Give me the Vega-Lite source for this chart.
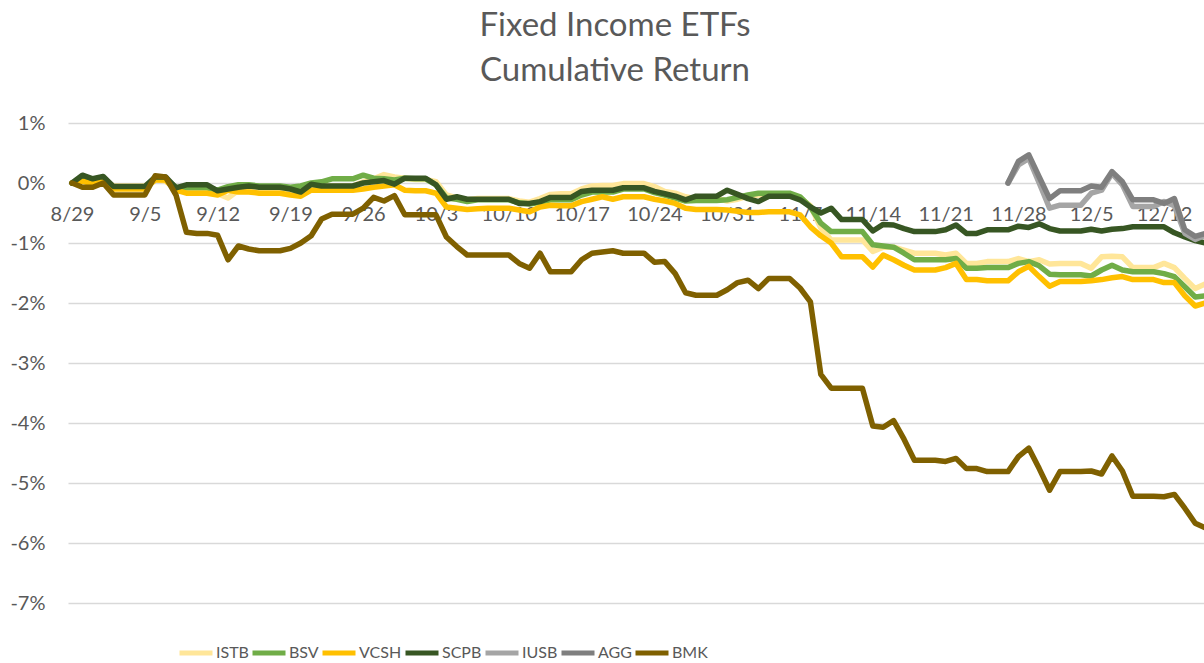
{
"$schema":"https://vega.github.io/schema/vega-lite/v6.json",
"width":1136,"height":480,
"autosize":{"type":"none"},
"padding":{"left":68,"top":123,"right":0,"bottom":60},
"background":"white",
"config":{"view":{"stroke":null},"font":"Lato"},
"title":{"text":["Fixed Income ETFs","Cumulative Return"],"fontSize":33,"font":"Lato","fontWeight":"normal","color":"#595959","anchor":"middle","dx":-21,"offset":25,"lineHeight":45},
"data":{"values":[
{"d":"2022-08-29","ISTB":0,"BSV":0,"VCSH":0,"SCPB":0,"BMK":0},
{"d":"2022-08-30","ISTB":0.04,"BSV":0.06,"VCSH":0.03,"SCPB":0.13,"BMK":-0.07},
{"d":"2022-08-31","ISTB":0.02,"BSV":0.03,"VCSH":-0.02,"SCPB":0.07,"BMK":-0.07},
{"d":"2022-09-01","ISTB":0.06,"BSV":0.06,"VCSH":0.05,"SCPB":0.11,"BMK":0.0},
{"d":"2022-09-02","ISTB":-0.05,"BSV":-0.07,"VCSH":-0.1,"SCPB":-0.06,"BMK":-0.2},
{"d":"2022-09-03","ISTB":-0.05,"BSV":-0.07,"VCSH":-0.1,"SCPB":-0.06,"BMK":-0.2},
{"d":"2022-09-04","ISTB":-0.05,"BSV":-0.07,"VCSH":-0.1,"SCPB":-0.06,"BMK":-0.2},
{"d":"2022-09-05","ISTB":-0.05,"BSV":-0.07,"VCSH":-0.1,"SCPB":-0.06,"BMK":-0.2},
{"d":"2022-09-06","ISTB":0.06,"BSV":0.07,"VCSH":0.05,"SCPB":0.1,"BMK":0.12},
{"d":"2022-09-07","ISTB":0.03,"BSV":0.07,"VCSH":0.05,"SCPB":0.1,"BMK":0.1},
{"d":"2022-09-08","ISTB":-0.1,"BSV":-0.07,"VCSH":-0.12,"SCPB":-0.08,"BMK":-0.2},
{"d":"2022-09-09","ISTB":-0.12,"BSV":-0.08,"VCSH":-0.17,"SCPB":-0.03,"BMK":-0.82},
{"d":"2022-09-10","ISTB":-0.12,"BSV":-0.08,"VCSH":-0.17,"SCPB":-0.03,"BMK":-0.84},
{"d":"2022-09-11","ISTB":-0.12,"BSV":-0.08,"VCSH":-0.17,"SCPB":-0.03,"BMK":-0.84},
{"d":"2022-09-12","ISTB":-0.18,"BSV":-0.12,"VCSH":-0.2,"SCPB":-0.13,"BMK":-0.87},
{"d":"2022-09-13","ISTB":-0.25,"BSV":-0.06,"VCSH":-0.12,"SCPB":-0.1,"BMK":-1.28},
{"d":"2022-09-14","ISTB":-0.12,"BSV":-0.03,"VCSH":-0.15,"SCPB":-0.07,"BMK":-1.05},
{"d":"2022-09-15","ISTB":-0.08,"BSV":-0.03,"VCSH":-0.15,"SCPB":-0.05,"BMK":-1.1},
{"d":"2022-09-16","ISTB":-0.1,"BSV":-0.05,"VCSH":-0.17,"SCPB":-0.07,"BMK":-1.13},
{"d":"2022-09-17","ISTB":-0.1,"BSV":-0.05,"VCSH":-0.17,"SCPB":-0.07,"BMK":-1.13},
{"d":"2022-09-18","ISTB":-0.1,"BSV":-0.05,"VCSH":-0.17,"SCPB":-0.07,"BMK":-1.13},
{"d":"2022-09-19","ISTB":-0.12,"BSV":-0.07,"VCSH":-0.2,"SCPB":-0.1,"BMK":-1.09},
{"d":"2022-09-20","ISTB":-0.1,"BSV":-0.05,"VCSH":-0.22,"SCPB":-0.15,"BMK":-1.0},
{"d":"2022-09-21","ISTB":-0.05,"BSV":0.0,"VCSH":-0.12,"SCPB":-0.02,"BMK":-0.88},
{"d":"2022-09-22","ISTB":-0.05,"BSV":0.02,"VCSH":-0.12,"SCPB":-0.05,"BMK":-0.6},
{"d":"2022-09-23","ISTB":-0.05,"BSV":0.07,"VCSH":-0.12,"SCPB":-0.05,"BMK":-0.52},
{"d":"2022-09-24","ISTB":-0.05,"BSV":0.07,"VCSH":-0.12,"SCPB":-0.05,"BMK":-0.52},
{"d":"2022-09-25","ISTB":-0.05,"BSV":0.07,"VCSH":-0.12,"SCPB":-0.05,"BMK":-0.52},
{"d":"2022-09-26","ISTB":0.02,"BSV":0.13,"VCSH":-0.1,"SCPB":0.0,"BMK":-0.42},
{"d":"2022-09-27","ISTB":0.07,"BSV":0.08,"VCSH":-0.07,"SCPB":0.02,"BMK":-0.24},
{"d":"2022-09-28","ISTB":0.14,"BSV":0.07,"VCSH":-0.05,"SCPB":0.04,"BMK":-0.3},
{"d":"2022-09-29","ISTB":0.1,"BSV":0.05,"VCSH":-0.03,"SCPB":-0.02,"BMK":-0.21},
{"d":"2022-09-30","ISTB":0.08,"BSV":0.08,"VCSH":-0.12,"SCPB":0.08,"BMK":-0.53},
{"d":"2022-10-01","ISTB":0.06,"BSV":0.07,"VCSH":-0.13,"SCPB":0.08,"BMK":-0.53},
{"d":"2022-10-02","ISTB":0.06,"BSV":0.07,"VCSH":-0.13,"SCPB":0.08,"BMK":-0.53},
{"d":"2022-10-03","ISTB":0.02,"BSV":-0.03,"VCSH":-0.17,"SCPB":-0.03,"BMK":-0.53},
{"d":"2022-10-04","ISTB":-0.2,"BSV":-0.25,"VCSH":-0.4,"SCPB":-0.27,"BMK":-0.9},
{"d":"2022-10-05","ISTB":-0.25,"BSV":-0.27,"VCSH":-0.42,"SCPB":-0.23,"BMK":-1.06},
{"d":"2022-10-06","ISTB":-0.28,"BSV":-0.31,"VCSH":-0.44,"SCPB":-0.27,"BMK":-1.2},
{"d":"2022-10-07","ISTB":-0.26,"BSV":-0.28,"VCSH":-0.43,"SCPB":-0.27,"BMK":-1.2},
{"d":"2022-10-08","ISTB":-0.26,"BSV":-0.28,"VCSH":-0.42,"SCPB":-0.27,"BMK":-1.2},
{"d":"2022-10-09","ISTB":-0.26,"BSV":-0.28,"VCSH":-0.42,"SCPB":-0.27,"BMK":-1.2},
{"d":"2022-10-10","ISTB":-0.26,"BSV":-0.28,"VCSH":-0.42,"SCPB":-0.27,"BMK":-1.2},
{"d":"2022-10-11","ISTB":-0.3,"BSV":-0.33,"VCSH":-0.45,"SCPB":-0.34,"BMK":-1.34},
{"d":"2022-10-12","ISTB":-0.32,"BSV":-0.35,"VCSH":-0.48,"SCPB":-0.34,"BMK":-1.42},
{"d":"2022-10-13","ISTB":-0.26,"BSV":-0.32,"VCSH":-0.4,"SCPB":-0.31,"BMK":-1.17},
{"d":"2022-10-14","ISTB":-0.19,"BSV":-0.28,"VCSH":-0.37,"SCPB":-0.24,"BMK":-1.48},
{"d":"2022-10-15","ISTB":-0.18,"BSV":-0.28,"VCSH":-0.38,"SCPB":-0.24,"BMK":-1.48},
{"d":"2022-10-16","ISTB":-0.18,"BSV":-0.28,"VCSH":-0.38,"SCPB":-0.24,"BMK":-1.48},
{"d":"2022-10-17","ISTB":-0.1,"BSV":-0.2,"VCSH":-0.31,"SCPB":-0.14,"BMK":-1.28},
{"d":"2022-10-18","ISTB":-0.05,"BSV":-0.15,"VCSH":-0.27,"SCPB":-0.12,"BMK":-1.17},
{"d":"2022-10-19","ISTB":-0.04,"BSV":-0.15,"VCSH":-0.23,"SCPB":-0.12,"BMK":-1.15},
{"d":"2022-10-20","ISTB":-0.04,"BSV":-0.15,"VCSH":-0.27,"SCPB":-0.12,"BMK":-1.13},
{"d":"2022-10-21","ISTB":-0.01,"BSV":-0.1,"VCSH":-0.23,"SCPB":-0.08,"BMK":-1.17},
{"d":"2022-10-22","ISTB":-0.01,"BSV":-0.1,"VCSH":-0.23,"SCPB":-0.08,"BMK":-1.17},
{"d":"2022-10-23","ISTB":-0.01,"BSV":-0.1,"VCSH":-0.23,"SCPB":-0.08,"BMK":-1.17},
{"d":"2022-10-24","ISTB":-0.06,"BSV":-0.16,"VCSH":-0.27,"SCPB":-0.14,"BMK":-1.32},
{"d":"2022-10-25","ISTB":-0.14,"BSV":-0.2,"VCSH":-0.3,"SCPB":-0.18,"BMK":-1.31},
{"d":"2022-10-26","ISTB":-0.17,"BSV":-0.25,"VCSH":-0.34,"SCPB":-0.22,"BMK":-1.51},
{"d":"2022-10-27","ISTB":-0.23,"BSV":-0.3,"VCSH":-0.42,"SCPB":-0.28,"BMK":-1.83},
{"d":"2022-10-28","ISTB":-0.26,"BSV":-0.29,"VCSH":-0.44,"SCPB":-0.22,"BMK":-1.87},
{"d":"2022-10-29","ISTB":-0.26,"BSV":-0.29,"VCSH":-0.44,"SCPB":-0.22,"BMK":-1.87},
{"d":"2022-10-30","ISTB":-0.26,"BSV":-0.29,"VCSH":-0.44,"SCPB":-0.22,"BMK":-1.87},
{"d":"2022-10-31","ISTB":-0.3,"BSV":-0.28,"VCSH":-0.45,"SCPB":-0.12,"BMK":-1.78},
{"d":"2022-11-01","ISTB":-0.27,"BSV":-0.24,"VCSH":-0.47,"SCPB":-0.19,"BMK":-1.66},
{"d":"2022-11-02","ISTB":-0.22,"BSV":-0.2,"VCSH":-0.49,"SCPB":-0.26,"BMK":-1.62},
{"d":"2022-11-03","ISTB":-0.2,"BSV":-0.17,"VCSH":-0.49,"SCPB":-0.31,"BMK":-1.76},
{"d":"2022-11-04","ISTB":-0.2,"BSV":-0.17,"VCSH":-0.48,"SCPB":-0.22,"BMK":-1.59},
{"d":"2022-11-05","ISTB":-0.2,"BSV":-0.17,"VCSH":-0.48,"SCPB":-0.22,"BMK":-1.59},
{"d":"2022-11-06","ISTB":-0.2,"BSV":-0.17,"VCSH":-0.48,"SCPB":-0.22,"BMK":-1.59},
{"d":"2022-11-07","ISTB":-0.25,"BSV":-0.23,"VCSH":-0.53,"SCPB":-0.28,"BMK":-1.75},
{"d":"2022-11-08","ISTB":-0.38,"BSV":-0.4,"VCSH":-0.73,"SCPB":-0.4,"BMK":-1.98},
{"d":"2022-11-09","ISTB":-0.75,"BSV":-0.67,"VCSH":-0.88,"SCPB":-0.5,"BMK":-3.19},
{"d":"2022-11-10","ISTB":-0.95,"BSV":-0.81,"VCSH":-1.0,"SCPB":-0.42,"BMK":-3.42},
{"d":"2022-11-11","ISTB":-0.95,"BSV":-0.81,"VCSH":-1.23,"SCPB":-0.61,"BMK":-3.42},
{"d":"2022-11-12","ISTB":-0.95,"BSV":-0.81,"VCSH":-1.23,"SCPB":-0.61,"BMK":-3.42},
{"d":"2022-11-13","ISTB":-0.95,"BSV":-0.81,"VCSH":-1.23,"SCPB":-0.61,"BMK":-3.42},
{"d":"2022-11-14","ISTB":-1.14,"BSV":-1.03,"VCSH":-1.4,"SCPB":-0.8,"BMK":-4.05},
{"d":"2022-11-15","ISTB":-1.07,"BSV":-1.05,"VCSH":-1.2,"SCPB":-0.69,"BMK":-4.07},
{"d":"2022-11-16","ISTB":-1.07,"BSV":-1.07,"VCSH":-1.28,"SCPB":-0.7,"BMK":-3.96},
{"d":"2022-11-17","ISTB":-1.12,"BSV":-1.17,"VCSH":-1.37,"SCPB":-0.76,"BMK":-4.27},
{"d":"2022-11-18","ISTB":-1.17,"BSV":-1.28,"VCSH":-1.45,"SCPB":-0.81,"BMK":-4.62},
{"d":"2022-11-19","ISTB":-1.17,"BSV":-1.28,"VCSH":-1.45,"SCPB":-0.81,"BMK":-4.62},
{"d":"2022-11-20","ISTB":-1.17,"BSV":-1.28,"VCSH":-1.45,"SCPB":-0.81,"BMK":-4.62},
{"d":"2022-11-21","ISTB":-1.2,"BSV":-1.28,"VCSH":-1.41,"SCPB":-0.78,"BMK":-4.64},
{"d":"2022-11-22","ISTB":-1.17,"BSV":-1.26,"VCSH":-1.34,"SCPB":-0.7,"BMK":-4.59},
{"d":"2022-11-23","ISTB":-1.34,"BSV":-1.42,"VCSH":-1.61,"SCPB":-0.84,"BMK":-4.76},
{"d":"2022-11-24","ISTB":-1.34,"BSV":-1.42,"VCSH":-1.61,"SCPB":-0.84,"BMK":-4.76},
{"d":"2022-11-25","ISTB":-1.31,"BSV":-1.41,"VCSH":-1.63,"SCPB":-0.78,"BMK":-4.81},
{"d":"2022-11-26","ISTB":-1.31,"BSV":-1.41,"VCSH":-1.63,"SCPB":-0.78,"BMK":-4.81},
{"d":"2022-11-27","ISTB":-1.31,"BSV":-1.41,"VCSH":-1.63,"SCPB":-0.78,"IUSB":0,"AGG":0,"BMK":-4.81},
{"d":"2022-11-28","ISTB":-1.26,"BSV":-1.34,"VCSH":-1.48,"SCPB":-0.72,"IUSB":0.3,"AGG":0.36,"BMK":-4.56},
{"d":"2022-11-29","ISTB":-1.31,"BSV":-1.31,"VCSH":-1.39,"SCPB":-0.74,"IUSB":0.41,"AGG":0.47,"BMK":-4.42},
{"d":"2022-11-30","ISTB":-1.28,"BSV":-1.38,"VCSH":-1.56,"SCPB":-0.68,"IUSB":0.0,"AGG":0.1,"BMK":-4.76},
{"d":"2022-12-01","ISTB":-1.35,"BSV":-1.52,"VCSH":-1.72,"SCPB":-0.76,"IUSB":-0.42,"AGG":-0.26,"BMK":-5.12},
{"d":"2022-12-02","ISTB":-1.34,"BSV":-1.53,"VCSH":-1.64,"SCPB":-0.8,"IUSB":-0.37,"AGG":-0.13,"BMK":-4.81},
{"d":"2022-12-03","ISTB":-1.34,"BSV":-1.53,"VCSH":-1.64,"SCPB":-0.8,"IUSB":-0.37,"AGG":-0.13,"BMK":-4.81},
{"d":"2022-12-04","ISTB":-1.34,"BSV":-1.53,"VCSH":-1.64,"SCPB":-0.8,"IUSB":-0.37,"AGG":-0.13,"BMK":-4.81},
{"d":"2022-12-05","ISTB":-1.42,"BSV":-1.55,"VCSH":-1.63,"SCPB":-0.77,"IUSB":-0.17,"AGG":-0.05,"BMK":-4.8},
{"d":"2022-12-06","ISTB":-1.23,"BSV":-1.45,"VCSH":-1.61,"SCPB":-0.8,"IUSB":-0.12,"AGG":-0.07,"BMK":-4.85},
{"d":"2022-12-07","ISTB":-1.22,"BSV":-1.37,"VCSH":-1.58,"SCPB":-0.77,"IUSB":0.16,"AGG":0.19,"BMK":-4.55},
{"d":"2022-12-08","ISTB":-1.23,"BSV":-1.45,"VCSH":-1.56,"SCPB":-0.76,"IUSB":-0.03,"AGG":0.02,"BMK":-4.8},
{"d":"2022-12-09","ISTB":-1.41,"BSV":-1.48,"VCSH":-1.61,"SCPB":-0.73,"IUSB":-0.39,"AGG":-0.28,"BMK":-5.22},
{"d":"2022-12-10","ISTB":-1.41,"BSV":-1.48,"VCSH":-1.61,"SCPB":-0.73,"IUSB":-0.39,"AGG":-0.28,"BMK":-5.22},
{"d":"2022-12-11","ISTB":-1.41,"BSV":-1.48,"VCSH":-1.61,"SCPB":-0.73,"IUSB":-0.39,"AGG":-0.28,"BMK":-5.22},
{"d":"2022-12-12","ISTB":-1.34,"BSV":-1.51,"VCSH":-1.66,"SCPB":-0.73,"IUSB":-0.31,"AGG":-0.34,"BMK":-5.23},
{"d":"2022-12-13","ISTB":-1.41,"BSV":-1.56,"VCSH":-1.66,"SCPB":-0.83,"IUSB":-0.38,"AGG":-0.26,"BMK":-5.19},
{"d":"2022-12-14","ISTB":-1.59,"BSV":-1.73,"VCSH":-1.88,"SCPB":-0.9,"IUSB":-0.84,"AGG":-0.78,"BMK":-5.42},
{"d":"2022-12-15","ISTB":-1.76,"BSV":-1.9,"VCSH":-2.05,"SCPB":-0.96,"IUSB":-0.94,"AGG":-0.89,"BMK":-5.67},
{"d":"2022-12-16","ISTB":-1.68,"BSV":-1.88,"VCSH":-2.0,"SCPB":-1.0,"IUSB":-0.87,"AGG":-0.84,"BMK":-5.75}
]},
"transform":[{"fold":["ISTB","BSV","VCSH","SCPB","IUSB","AGG","BMK"],"as":["series","ret"]}],
"mark":{"type":"line","strokeWidth":5.5,"strokeCap":"round","strokeJoin":"round","clip":true},
"encoding":{
"x":{"field":"d","type":"temporal",
"scale":{"type":"utc","domain":[{"year":2022,"month":8,"date":28,"hours":14,"minutes":46,"utc":true},{"year":2022,"month":12,"date":15,"hours":20,"minutes":17,"utc":true}]},
"axis":{"values":[{"year":2022,"month":8,"date":29,"utc":true},{"year":2022,"month":9,"date":5,"utc":true},{"year":2022,"month":9,"date":12,"utc":true},{"year":2022,"month":9,"date":19,"utc":true},{"year":2022,"month":9,"date":26,"utc":true},{"year":2022,"month":10,"date":3,"utc":true},{"year":2022,"month":10,"date":10,"utc":true},{"year":2022,"month":10,"date":17,"utc":true},{"year":2022,"month":10,"date":24,"utc":true},{"year":2022,"month":10,"date":31,"utc":true},{"year":2022,"month":11,"date":7,"utc":true},{"year":2022,"month":11,"date":14,"utc":true},{"year":2022,"month":11,"date":21,"utc":true},{"year":2022,"month":11,"date":28,"utc":true},{"year":2022,"month":12,"date":5,"utc":true},{"year":2022,"month":12,"date":12,"utc":true}],
"labelExpr":"utcFormat(datum.value, '%-m/%-d')","offset":-420,"ticks":false,"domain":false,"grid":false,"labelFontSize":20,"labelFont":"Lato","labelColor":"#595959","labelPadding":21,"labelFlush":false,"labelOverlap":false,"labelBound":false,"title":null}},
"y":{"field":"ret","type":"quantitative","scale":{"domain":[-7,1],"nice":false},
"axis":{"values":[-7,-6,-5,-4,-3,-2,-1,0,1],"labelExpr":"datum.value + '%'","ticks":false,"domain":false,"grid":true,"gridColor":"#D9D9D9","gridWidth":1.5,"labelFontSize":20,"labelFont":"Lato","labelColor":"#595959","labelPadding":23,"title":null}},
"color":{"field":"series","type":"nominal",
"scale":{"domain":["ISTB","BSV","VCSH","SCPB","IUSB","AGG","BMK"],"range":["#FFE699","#70AD47","#FFC000","#375623","#A5A5A5","#7F7F7F","#7F6000"]},
"legend":{"orient":"none","legendX":109,"legendY":511,"direction":"horizontal","title":null,"symbolType":"stroke","symbolSize":1089,"symbolStrokeWidth":5,"labelFontSize":16,"labelFont":"Lato","labelColor":"#595959","labelOffset":1,"columnPadding":-7}}
}
}
